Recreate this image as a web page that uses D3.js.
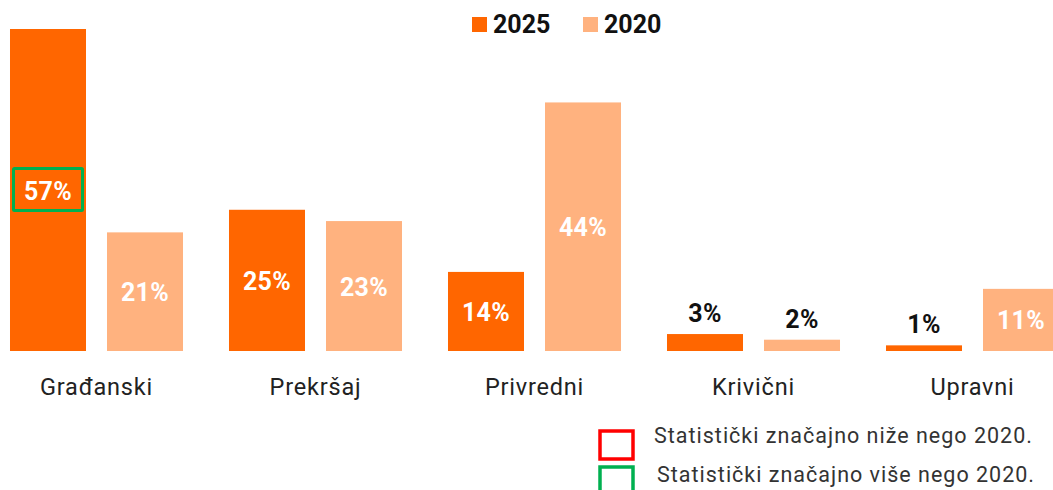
<!DOCTYPE html>
<html>
<head>
<meta charset="utf-8">
<script src="https://cdn.jsdelivr.net/npm/d3@7"></script>
<style>
  body { margin: 0; background: #fff; }
  svg { display: block; font-family: Roboto, "Noto Sans", sans-serif; }
</style>
</head>
<body>
<div id="chart"></div>
<script>
// data
var categories = ["Građanski", "Prekršaj", "Privredni", "Krivični", "Upravni"];
var years = ["2025", "2020"];
var values2025 = [57, 25, 14, 3, 1];
var values2020 = [21, 23, 44, 2, 11];
// significance vs 2020: "up", "down" or null
var signif = ["up", null, null, null, null];

var colors = { "2025": "#FF6600", "2020": "#FFB27F" };

var W = 1053, H = 490;
var base = 351;

var svg = d3.select("#chart").append("svg")
  .attr("width", W).attr("height", H);

var x0 = d3.scaleBand()
  .domain(categories)
  .range([-13, 1082])
  .paddingInner(0.21)
  .paddingOuter(0.105);

var x1 = d3.scaleBand()
  .domain(years)
  .range([0, x0.bandwidth()])
  .paddingInner(0.2165)
  .paddingOuter(0);

var y = d3.scaleLinear()
  .domain([0, 57])
  .range([base, 29]);

var rows = categories.map(function(c, i){
  return { cat: c, idx: i, vals: [
    { year: "2025", v: values2025[i] },
    { year: "2020", v: values2020[i] }
  ]};
});

var g = svg.selectAll("g.grp")
  .data(rows)
  .enter().append("g")
  .attr("class", "grp")
  .attr("transform", function(d){ return "translate(" + x0(d.cat) + ",0)"; });

g.selectAll("rect")
  .data(function(d){ return d.vals; })
  .enter().append("rect")
  .attr("x", function(d){ return x1(d.year); })
  .attr("y", function(d){ return y(d.v); })
  .attr("width", x1.bandwidth())
  .attr("height", function(d){ return base - y(d.v); })
  .attr("fill", function(d){ return colors[d.year]; });

// value labels: inside for tall bars, above for short ones
g.selectAll("text.val")
  .data(function(d){ return d.vals; })
  .enter().append("text")
  .attr("class", "val")
  .attr("x", function(d){ return x1(d.year) + x1.bandwidth() / 2; })
  .attr("y", function(d){
    if (d.v < 5) return y(d.v) - 12;
    return (y(d.v) + base) / 2 + 9.5;
  })
  .attr("text-anchor", "middle")
  .attr("font-size", 25)
  .attr("font-weight", "bold")
  .attr("letter-spacing", 0.3)
  .attr("fill", function(d){ return d.v < 5 ? "#111" : "#fff"; })
  .text(function(d){ return d.v + "%"; });

// significance boxes around 2025 labels
g.filter(function(d){ return signif[d.idx]; })
  .append("rect")
  .attr("x", function(d){ return x1("2025") + 3.5; })
  .attr("y", function(d){ return (y(d.vals[0].v) + base) / 2 - 21.5; })
  .attr("width", x1.bandwidth() - 7)
  .attr("height", 42)
  .attr("rx", 1)
  .attr("fill", "none")
  .attr("stroke", function(d){ return signif[d.idx] == "up" ? "#00B050" : "#FF0000"; })
  .attr("stroke-width", 3);

// category labels
svg.selectAll("text.cat")
  .data(categories)
  .enter().append("text")
  .attr("class", "cat")
  .attr("x", function(d){ return x0(d) + x0.bandwidth() / 2; })
  .attr("y", 395)
  .attr("text-anchor", "middle")
  .attr("font-size", 23.5)
  .attr("letter-spacing", 0.8)
  .attr("fill", "#222")
  .text(function(d){ return d; });

// top legend
var leg = svg.append("g");
var legX = [472, 583];
years.forEach(function(yr, i){
  leg.append("rect")
    .attr("x", legX[i]).attr("y", 17)
    .attr("width", 15).attr("height", 15)
    .attr("fill", colors[yr]);
  leg.append("text")
    .attr("x", legX[i] + 21).attr("y", 33)
    .attr("font-size", 25)
    .attr("font-weight", "bold")
    .attr("fill", "#111")
    .text(yr);
});

// bottom legend for significance
var sig = svg.append("g");
sig.append("rect")
  .attr("x", 600).attr("y", 431)
  .attr("width", 33).attr("height", 28)
  .attr("fill", "none").attr("stroke", "#FF0000").attr("stroke-width", 3.5);
sig.append("path")
  .attr("d", "M600,492 V467 H633 V492")
  .attr("fill", "none").attr("stroke", "#00B050").attr("stroke-width", 3.5);
sig.append("text")
  .attr("x", 654).attr("y", 443)
  .attr("font-size", 21.5).attr("letter-spacing", 1.0).attr("fill", "#333")
  .text("Statistički značajno niže nego 2020.");
sig.append("text")
  .attr("x", 657).attr("y", 482)
  .attr("font-size", 21.5).attr("letter-spacing", 1.0).attr("fill", "#333")
  .text("Statistički značajno više nego 2020.");
</script>
</body>
</html>
